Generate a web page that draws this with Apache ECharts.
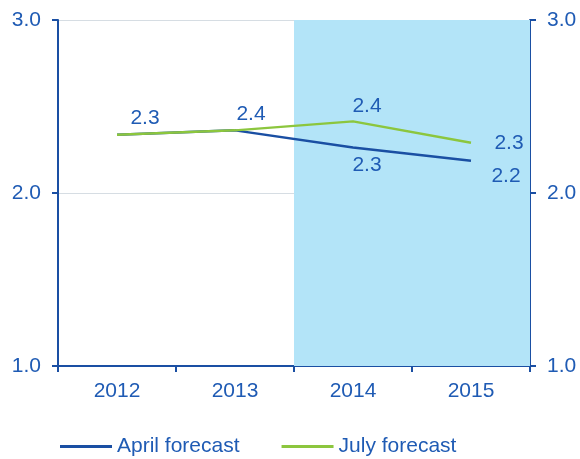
<!DOCTYPE html>
<html>
<head>
<meta charset="utf-8">
<script src="https://cdn.jsdelivr.net/npm/echarts@6/dist/echarts.min.js"></script>
<style>
  html, body { margin: 0; padding: 0; background: #fff; }
  #chart { width: 580px; height: 459px; }
</style>
</head>
<body>
<div id="chart"></div>
<script>
// data
const years = ['2012', '2013', '2014', '2015'];
const aprilForecast = [2.337, 2.362, 2.263, 2.187];
const julyForecast = [2.337, 2.362, 2.414, 2.291];
const forecastShade = [null, null, 3, 3];   // shaded forecast years
const yTicks = [1.0, 2.0, 3.0];

const BLUE = '#1a4fa3';
const GREEN = '#8cc63e';
const TEXT = '#1f5bb4';
const SHADE = '#b3e4f8';
const FONT = 'Liberation Sans';

// label offsets (x, y) from each point
const aprilLabels = [null, null, [14, 18], [35, 16]];
const julyLabels = [[28, -16], [16, -16], [14, -15], [38, 1]];

let chart = echarts.init(document.getElementById('chart'));

let mkData = (vals, offs) => vals.map((v, i) => ({
  value: v,
  label: offs[i] ? { show: true, position: 'inside', offset: offs[i] } : { show: false }
}));

let yAxis = (pos) => ({
  type: 'value',
  position: pos,
  min: yTicks[0],
  max: yTicks[yTicks.length - 1],
  interval: 1,
  axisLine: { show: true, lineStyle: { color: BLUE, width: 2 } },
  axisTick: { show: true, length: 6, lineStyle: { color: BLUE, width: 2 } },
  axisLabel: {
    color: TEXT, fontSize: 21, fontFamily: FONT, margin: 17,
    formatter: (v) => v.toFixed(1)
  },
  splitLine: { show: pos === 'left', lineStyle: { color: '#d6dde3', width: 1 } }
});

let lineLabel = {
  color: TEXT, fontSize: 21, fontFamily: FONT,
  formatter: (p) => p.value.toFixed(1)
};

chart.setOption({
  animation: false,
  grid: { left: 58, right: 50, top: 20, bottom: 93 },
  legend: {
    top: 431,
    left: 55,
    itemWidth: 52,
    itemHeight: 3,
    itemGap: 42,
    icon: 'rect',
    textStyle: { color: TEXT, fontSize: 21, fontFamily: FONT },
    data: ['April forecast', 'July forecast']
  },
  xAxis: {
    type: 'category',
    data: years,
    boundaryGap: true,
    axisLine: { show: true, lineStyle: { color: BLUE, width: 2 } },
    axisTick: { show: true, length: 6, lineStyle: { color: BLUE, width: 2 } },
    axisLabel: { color: TEXT, fontSize: 21, fontFamily: FONT, margin: 15 }
  },
  yAxis: [yAxis('left'), yAxis('right')],
  series: [
    {
      name: 'shade',
      type: 'bar',
      data: forecastShade,
      barWidth: '100%',
      silent: true,
      itemStyle: { color: SHADE },
      z: 1
    },
    {
      name: 'April forecast',
      type: 'line',
      data: mkData(aprilForecast, aprilLabels),
      showSymbol: true,
      symbol: 'circle',
      symbolSize: 0,
      lineStyle: { color: BLUE, width: 2.5 },
      itemStyle: { color: BLUE },
      label: lineLabel,
      z: 2
    },
    {
      name: 'July forecast',
      type: 'line',
      data: mkData(julyForecast, julyLabels),
      showSymbol: true,
      symbol: 'circle',
      symbolSize: 0,
      lineStyle: { color: GREEN, width: 2.5 },
      itemStyle: { color: GREEN },
      label: lineLabel,
      z: 3
    }
  ]
});
</script>
</body>
</html>
